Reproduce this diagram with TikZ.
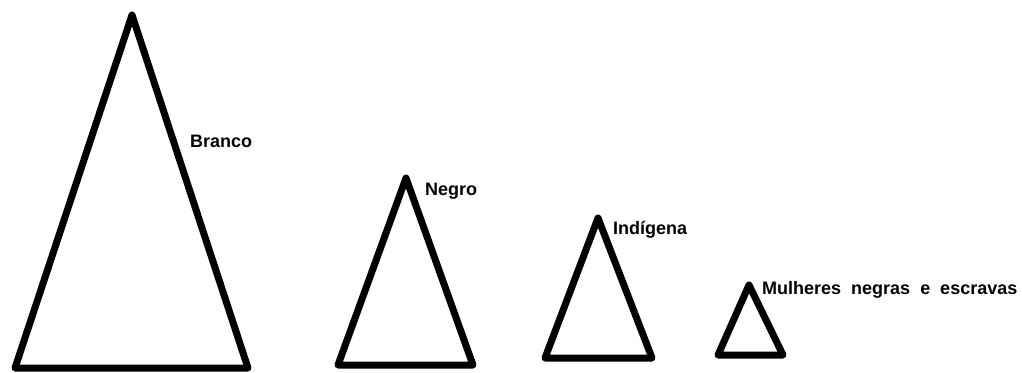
\documentclass[tikz,border=0pt]{standalone}
\usepackage{fontspec}
\setmainfont{Liberation Sans}
\usetikzlibrary{positioning}
\newcommand\widespace{\spaceskip 10pt\relax}
\begin{document}
\begin{tikzpicture}[x=1pt, y=-1pt,
  tri/.style={draw=black, line width=7pt, line join=round},
  lbl/.style={anchor=base west, inner sep=0pt, text=black,
              font={\fontsize{18}{21}\selectfont\bfseries\widespace}}
]
\useasboundingbox (0,0) rectangle (1022,372);
% Triangles (apex, then base corners)
\foreach \n/\ax/\ay/\lx/\rx/\by in {branco/132/15/15/248/368,
  negro/406/178/338/473/365, indigena/598/218/545/652/358,
  mulheres/749/285/718/783/355}
  { \draw[tri] (\ax,\ay) coordinate (\n) -- (\lx,\by) -- (\rx,\by) -- cycle; }

% Labels
\node[lbl] (lbranco) at (190,147) {Branco};
\node[lbl] (lnegro) at (425,195) {Negro};
\node[lbl] (lindigena) at (613,234) {Indígena};
\node[lbl] (lmulheres) at (762,294) {Mulheres negras e escravas};
\end{tikzpicture}
\end{document}
